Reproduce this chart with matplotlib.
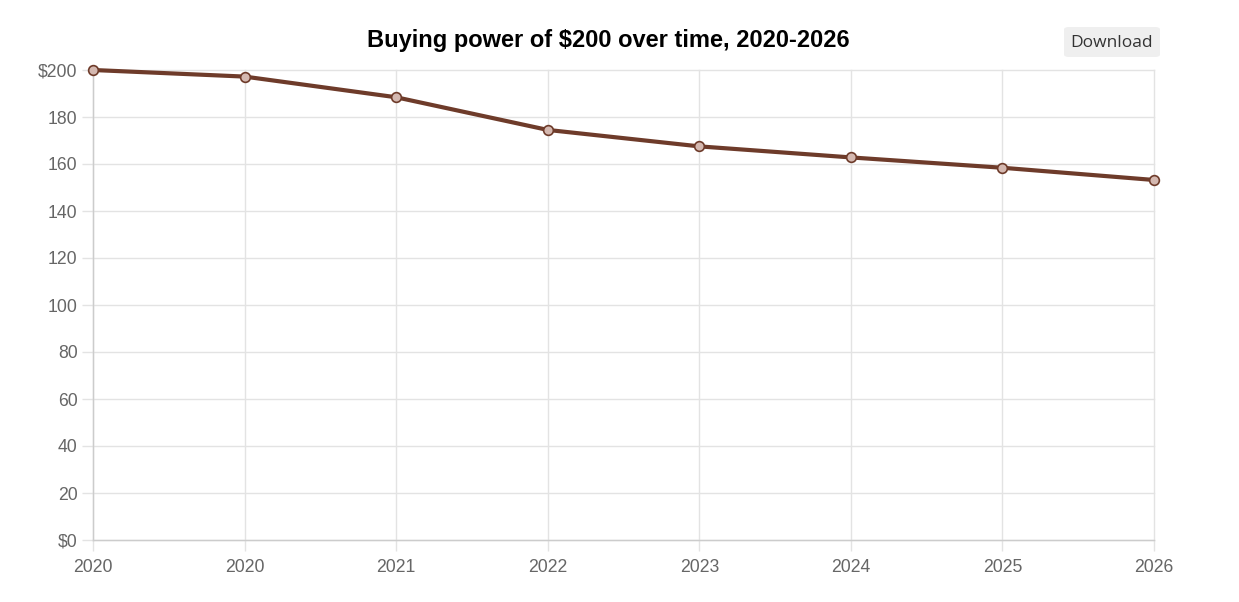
import matplotlib.pyplot as plt
from matplotlib.patches import FancyBboxPatch
from matplotlib.ticker import FuncFormatter

years = ['2020', '2020', '2021', '2022', '2023', '2024', '2025', '2026']
values = [200, 197.2, 188.4, 174.5, 167.5, 162.8, 158.4, 153.2]
yticks = [0, 20, 40, 60, 80, 100, 120, 140, 160, 180, 200]

lineColor = '#6e3b2a'
gridColor = '#e3e3e3'
textColor = '#666666'

plt.rcParams['font.family'] = ['Liberation Sans', 'DejaVu Sans']

fig = plt.figure(figsize=(12.39, 6.02), dpi=100)
ax = fig.add_axes([93 / 1239, 1 - 540 / 602, (1154 - 93) / 1239, (540 - 70) / 602])

x = list(range(len(years)))
ax.plot(x, values, color=lineColor, linewidth=3, zorder=3,
        marker='o', markersize=7, markerfacecolor='#d4b8b0',
        markeredgecolor=lineColor, markeredgewidth=1.2, clip_on=False)

ax.set_xlim(0, len(years) - 1)
ax.set_ylim(0, 200)
ax.set_xticks(x)
ax.set_xticklabels(years)
ax.set_yticks(yticks)

def money(v, pos):
    v = int(v)
    if v == 0 or v == 200:
        return f'${v}'
    return str(v)

ax.yaxis.set_major_formatter(FuncFormatter(money))

ax.grid(True, color=gridColor, linewidth=1)
for gl in ax.get_xgridlines() + ax.get_ygridlines():
    gl.set_clip_on(False)
ax.set_axisbelow(True)
for side in ['top', 'right']:
    ax.spines[side].set_visible(False)
for side in ['left', 'bottom']:
    ax.spines[side].set_color('#cccccc')
    ax.spines[side].set_linewidth(1)

ax.tick_params(axis='both', colors=gridColor, labelcolor=textColor,
               labelsize=12.7, length=8, width=1)
ax.tick_params(axis='y', pad=3)
ax.tick_params(axis='x', pad=6)

fig.text(608 / 1239, 1 - 47 / 602, 'Buying power of $200 over time, 2020-2026',
         ha='center', va='baseline', fontsize=17, fontweight='bold', color='#000000')

# download button
btn = FancyBboxPatch((1064 / 1239, 1 - 57 / 602), 96 / 1239, 30 / 602,
                     boxstyle='round,pad=0,rounding_size=0.004',
                     transform=fig.transFigure, facecolor='#efefef',
                     edgecolor='none')
fig.patches.append(btn)
fig.text(1112 / 1239, 1 - 43 / 602, 'Download', ha='center', va='center',
         fontsize=12.5, color='#333333', family=['Open Sans', 'DejaVu Sans'])

fig.savefig('out.png', dpi=100)
